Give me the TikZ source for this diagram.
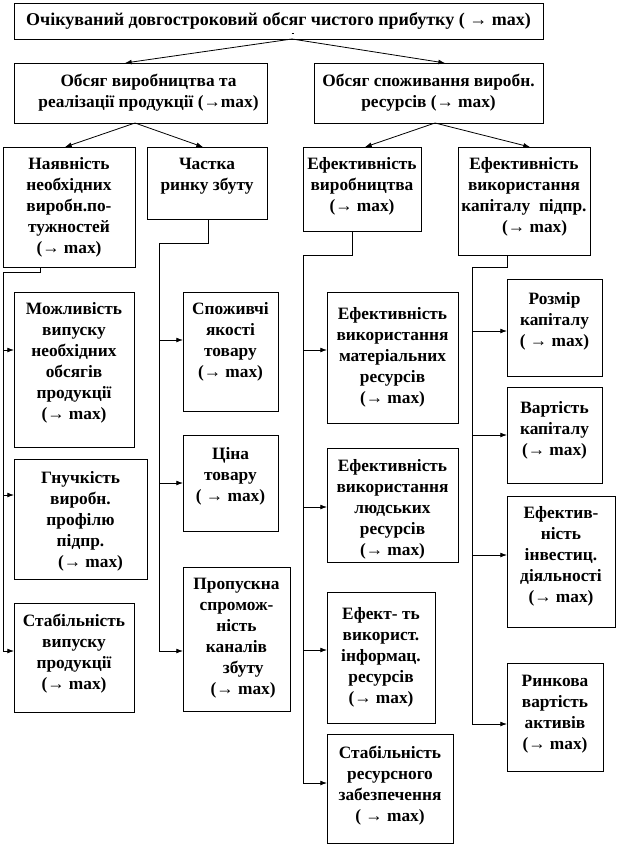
\documentclass[tikz,border=0pt]{standalone}
\usepackage{fontspec}
\setmainfont{Liberation Serif}
\usetikzlibrary{arrows.meta,calc}
\newcommand\bx[7]{%
  \node[box] (#1) at (#2,#3) {\parbox[c][\dimexpr0.75pt*\numexpr#5-#3\relax\relax][t]{\dimexpr0.75pt*\numexpr#4-#2\relax\relax}{\centering\rule{0pt}{\dimexpr0.75pt*\numexpr#6\relax\relax}#7\par}};}
\tikzset{
  box/.style={draw, line width=0.6pt, inner sep=0pt, outer sep=0pt, anchor=north west,
    font=\fontsize{13}{15.75}\selectfont\bfseries},
  arr/.style={-{Latex[length=5pt,width=3.6pt]}, line width=0.6pt},
  ln/.style={line width=0.6pt}
}
\begin{document}
\begin{tikzpicture}[x=0.75pt,y=-0.75pt]
\useasboundingbox (0,0) rectangle (618,846);
% boxes
\bx{title}{14}{3}{543}{39}{23}{\fontsize{13.5}{15.75}\selectfont Очікуваний довгостроковий обсяг чистого прибутку ( → max)}
\bx{l2a}{14}{63}{267}{123}{23}{\hspace*{12pt}Обсяг виробництва та\\\hspace*{12pt}реалізації продукції (→max)}
\bx{l2b}{314}{63}{543}{123}{23}{Обсяг споживання виробн.\\ресурсів (→ max)}
\bx{nay}{3}{147}{135}{267}{22}{Наявність\\необхідних\\виробн.по-\\тужностей\\(→ max)}
\bx{chastka}{147}{147}{267}{219}{22}{Частка\\ринку збуту}
\bx{efvyr}{303}{147}{421}{231}{22}{Ефективність\\виробництва\\(→ max)}
\bx{efkap}{458}{147}{590}{255}{22}{Ефективність\\використання\\капіталу~~підпр.\\\hspace*{16pt}(→ max)}
\bx{mozh}{14}{292}{134}{447}{22}{Можливість\\випуску\\необхідних\\обсягів\\продукції\\(→ max)}
\bx{gnuch}{14}{459}{147}{579}{24}{Гнучкість\\виробн.\\профілю\\підпр.\\\hspace*{15pt}(→ max)}
\bx{stab1}{14}{603}{134}{712}{23}{Стабільність\\випуску\\продукції\\(→ max)}
\bx{spoz}{183}{292}{278}{411}{22}{Споживчі\\якості\\товару\\(→ max)}
\bx{tsina}{183}{435}{278}{531}{24}{Ціна\\товару\\( → max)}
\bx{prop}{183}{567}{290}{711}{22}{Пропускна\\спромож-\\ність\\каналів\\\hspace*{10pt}збуту\\\hspace*{10pt}(→ max)}
\bx{efmat}{327}{292}{458}{423}{27}{Ефективність\\використання\\матеріальних\\ресурсів\\(→ max)}
\bx{eflud}{327}{448}{458}{562}{23}{Ефективність\\використання\\людських\\ресурсів\\(→ max)}
\bx{efinf}{327}{592}{435}{723}{27}{Ефект- ть\\використ.\\інформац.\\ресурсів\\(→ max)}
\bx{stab2}{327}{734}{453}{843}{24}{Стабільність\\ресурсного\\забезпечення\\( → max)}
\bx{rozm}{507}{279}{602}{376}{25}{Розмір\\капіталу\\( → max)}
\bx{vart}{507}{387}{602}{483}{26}{Вартість\\капіталу\\(→ max)}
\bx{inv}{507}{496}{615}{627}{22}{Ефектив-\\ність\\інвестиц.\\діяльності\\(→ max)}
\bx{rynk}{507}{663}{603}{771}{23}{Ринкова\\вартість\\активів\\(→ max)}
% stray mark under title
\draw[ln] ($(title.south)+(13,-6)$) -- ($(title.south)+(15.5,-6)$);
% tree arrows
\draw[arr] ($(title.south)+(13.5,0)$) -- ($(l2a.north)+(-15.5,0)$);
\draw[arr] ($(title.south)+(13.5,0)$) -- ($(l2b.north)+(16.5,0)$);
\draw[arr] ($(l2a.south)+(-5.5,0)$) -- ($(nay.north)+(-4,0)$);
\draw[arr] ($(l2a.south)+(-5.5,0)$) -- ($(chastka.north)+(-4,0)$);
\draw[arr] ($(l2b.south)+(6.5,0)$) -- ($(efvyr.north)+(3,0)$);
\draw[arr] ($(l2b.south)+(6.5,0)$) -- ($(efkap.north)+(6,0)$);
% trunk coordinates
\coordinate (ta) at (3,272);
\coordinate (tb) at (159,243);
\coordinate (tc) at (303,255);
\coordinate (td) at (472,267);
\coordinate (a1) at (3,350);
\coordinate (a2) at (3,495);
\coordinate (a3) at (3,651);
\coordinate (b1) at (159,340);
\coordinate (b2) at (159,483);
\coordinate (b3) at (159,651);
\coordinate (c1) at (303,350);
\coordinate (c2) at (303,507);
\coordinate (c3) at (303,650);
\coordinate (c4) at (303,783);
\coordinate (d1) at (472,331);
\coordinate (d2) at (472,435);
\coordinate (d3) at (472,555);
\coordinate (d4) at (472,724);
% trunks
\draw[arr] ($(nay.south)+(-29,0)$) |- (ta) |- (a3 -| stab1.west);
\draw[arr] (a1) -- (a1 -| mozh.west);
\draw[arr] (a2) -- (a2 -| gnuch.west);
\draw[arr] ($(chastka.south)+(1,0)$) |- (tb) |- (b3 -| prop.west);
\draw[arr] (b1) -- (b1 -| spoz.west);
\draw[arr] (b2) -- (b2 -| tsina.west);
\draw[arr] ($(efvyr.south)+(-10,0)$) |- (tc) |- (c4 -| stab2.west);
\draw[arr] (c1) -- (c1 -| efmat.west);
\draw[arr] (c2) -- (c2 -| eflud.west);
\draw[arr] (c3) -- (c3 -| efinf.west);
\draw[arr] ($(efkap.south)+(-17,0)$) |- (td) |- (d4 -| rynk.west);
\draw[arr] (d1) -- (d1 -| rozm.west);
\draw[arr] (d2) -- (d2 -| vart.west);
\draw[arr] (d3) -- (d3 -| inv.west);
\end{tikzpicture}
\end{document}
